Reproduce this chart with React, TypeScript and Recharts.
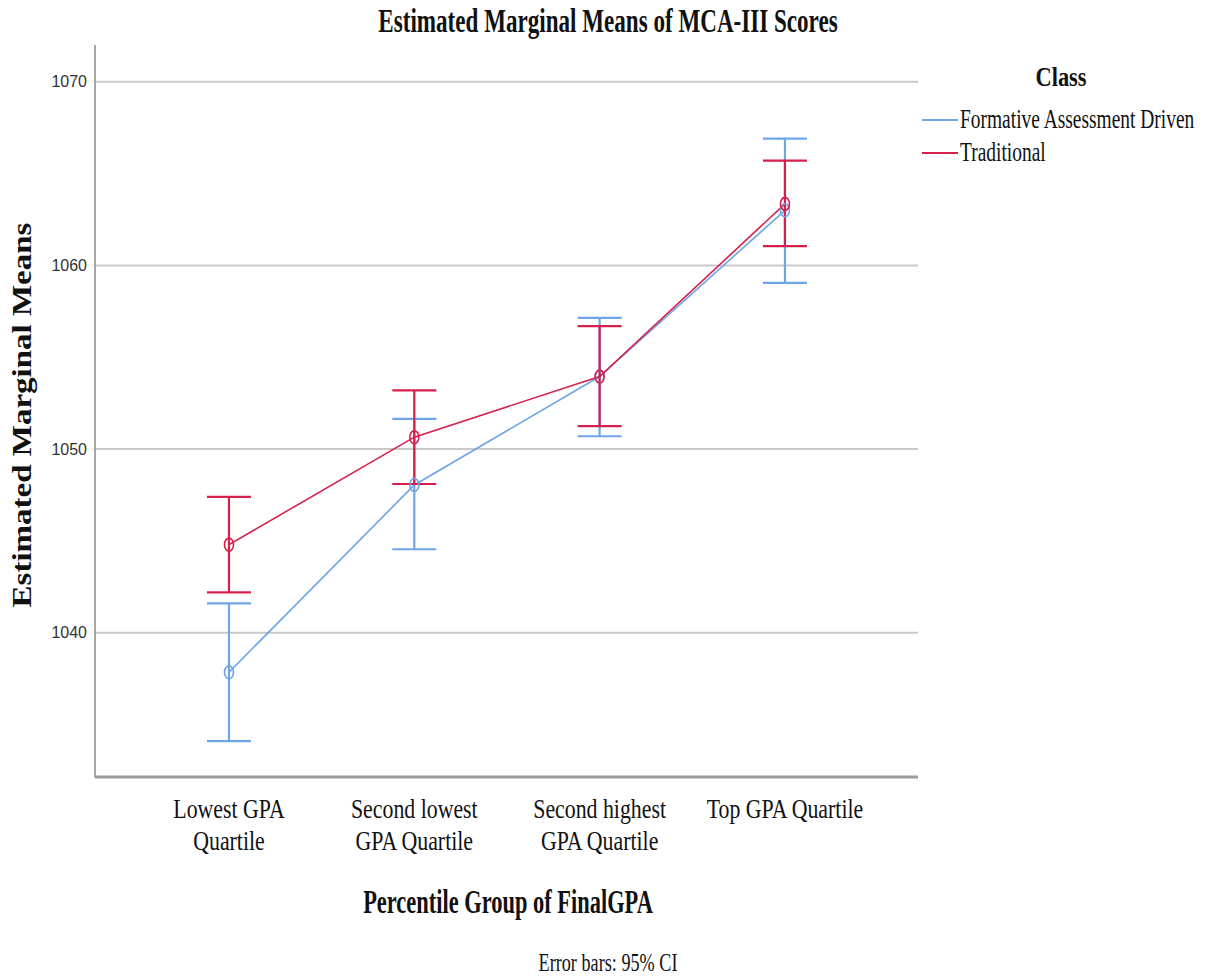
import { LineChart, Line, XAxis, YAxis, ReferenceLine, ErrorBar } from 'recharts';

// categories on the x axis
const categories = ['Lowest GPA Quartile', 'Second lowest GPA Quartile', 'Second highest GPA Quartile', 'Top GPA Quartile'];
const tickLabels = [['Lowest GPA', 'Quartile'], ['Second lowest', 'GPA Quartile'], ['Second highest', 'GPA Quartile'], ['Top GPA Quartile']];

// Formative Assessment Driven: mean and 95% CI
const formativeMean = [1037.85, 1048.05, 1053.95, 1063.0];
const formativeLow = [1034.1, 1044.55, 1050.7, 1059.05];
const formativeHigh = [1041.6, 1051.65, 1057.15, 1066.9];

// Traditional: mean and 95% CI
const traditionalMean = [1044.8, 1050.65, 1053.95, 1063.35];
const traditionalLow = [1042.2, 1048.1, 1051.25, 1061.05];
const traditionalHigh = [1047.4, 1053.2, 1056.7, 1065.7];

const yTicks = [1040, 1050, 1060, 1070];

const BLUE = '#6ea5e8';
const RED = '#d6204c';
const SERIF = '"Liberation Serif", "Times New Roman", serif';

const data = categories.map((c, i) => ({
  x: i,
  name: c,
  formative: formativeMean[i],
  formativeErr: [formativeMean[i] - formativeLow[i], formativeHigh[i] - formativeMean[i]],
  traditional: traditionalMean[i],
  traditionalErr: [traditionalMean[i] - traditionalLow[i], traditionalHigh[i] - traditionalMean[i]],
}));

const XTick = ({ x, y, payload }: any) => {
  const lines = tickLabels[payload.value] || [];
  return (
    <g>
      {lines.map((line, i) => (
        <text
          key={i}
          transform={`translate(${x}, ${y + 33 + i * 32}) scale(0.78, 1)`}
          textAnchor="middle"
          fontFamily={SERIF}
          fontSize={28}
          fill="#111"
        >
          {line}
        </text>
      ))}
    </g>
  );
};

const marker = (color: string) => (p: any) => (
  <ellipse key={p.index} cx={p.cx} cy={p.cy} rx={4.5} ry={6.5} fill="none" stroke={color} strokeWidth={1.6} />
);

const SText = ({ x, y, sx, size, bold, anchor, children }: any) => (
  <text
    transform={`translate(${x}, ${y}) scale(${sx}, 1)`}
    textAnchor={anchor || 'middle'}
    fontFamily={SERIF}
    fontSize={size}
    fontWeight={bold ? 'bold' : 'normal'}
    fill="#111"
  >
    {children}
  </text>
);

export default function App() {
  return (
    <div style={{ position: 'absolute', left: 0, top: 0, width: 1208, height: 978, background: '#fff' }}>
      <div style={{ position: 'absolute', left: 0, top: 0 }}>
        <LineChart width={1208} height={978} data={data} margin={{ top: 45, right: 290, left: 35, bottom: 131 }}>
          <XAxis
            dataKey="x"
            type="number"
            domain={[-0.723, 3.718]}
            ticks={[0, 1, 2, 3]}
            height={70}
            tick={<XTick />}
            tickLine={false}
            axisLine={{ stroke: '#9a9a9a', strokeWidth: 3 }}
            allowDataOverflow
          />
          <YAxis
            type="number"
            domain={[1032.15, 1072.0]}
            ticks={yTicks}
            width={60}
            tickLine={false}
            tickSize={6}
            tickMargin={2}
            axisLine={{ stroke: '#8a8a8a', strokeWidth: 1.5 }}
            tick={{ fontFamily: '"Liberation Sans", Arial, sans-serif', fontSize: 16, fill: '#333' }}
            allowDataOverflow
          />
          {yTicks.map((t) => (
            <ReferenceLine key={t} y={t} stroke="#c9c9c9" strokeWidth={2} />
          ))}
          <Line
            dataKey="formative"
            stroke={BLUE}
            strokeWidth={1.6}
            dot={marker(BLUE)}
            activeDot={false}
            isAnimationActive={false}
          >
            <ErrorBar dataKey="formativeErr" direction="y" width={22} stroke={BLUE} strokeWidth={2.2} />
          </Line>
          <Line
            dataKey="traditional"
            stroke={RED}
            strokeWidth={1.6}
            dot={marker(RED)}
            activeDot={false}
            isAnimationActive={false}
          >
            <ErrorBar dataKey="traditionalErr" direction="y" width={22} stroke={RED} strokeWidth={2.2} />
          </Line>
        </LineChart>
      </div>
      <svg width={1208} height={978} style={{ position: 'absolute', left: 0, top: 0, pointerEvents: 'none' }}>
        <SText x={608} y={32} sx={0.7} size={33} bold>
          Estimated Marginal Means of MCA-III Scores
        </SText>
        <text
          transform="translate(31, 415) rotate(-90) scale(1, 0.8)"
          textAnchor="middle"
          fontFamily={SERIF}
          fontSize={33}
          fontWeight="bold"
          fill="#111"
        >
          Estimated Marginal Means
        </text>
        <SText x={508} y={913} sx={0.68} size={33} bold>
          Percentile Group of FinalGPA
        </SText>
        <SText x={608} y={971} sx={0.7} size={26}>
          Error bars: 95% CI
        </SText>
        <SText x={1061} y={86} sx={0.8} size={28} bold>
          Class
        </SText>
        <line x1={922} x2={958} y1={120} y2={120} stroke={BLUE} strokeWidth={2} />
        <SText x={960} y={128} sx={0.72} size={27} anchor="start">
          Formative Assessment Driven
        </SText>
        <line x1={922} x2={958} y1={153} y2={153} stroke={RED} strokeWidth={2} />
        <SText x={960} y={161} sx={0.72} size={27} anchor="start">
          Traditional
        </SText>
      </svg>
    </div>
  );
}
